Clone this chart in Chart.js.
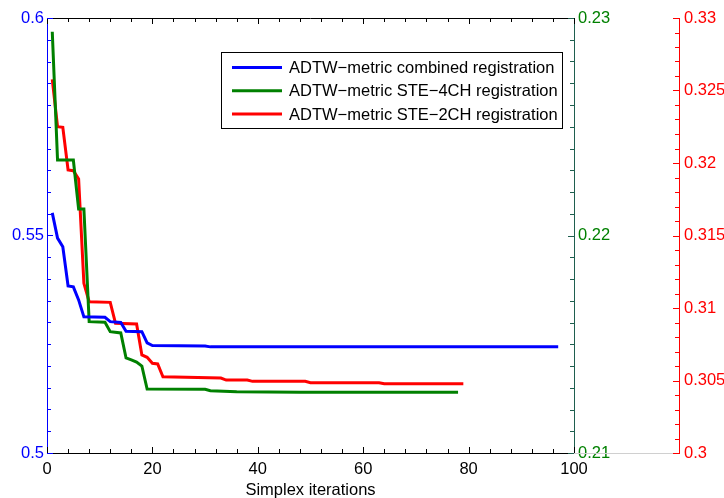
<!DOCTYPE html>
<html><head><meta charset="utf-8">
<script src="https://cdn.jsdelivr.net/npm/chart.js@4/dist/chart.umd.min.js"></script>
<style>html,body{margin:0;padding:0;background:#fff;}#wrap{width:724px;height:498px;}</style>
</head><body><div id="wrap"><canvas id="c" width="724" height="498"></canvas></div>
<script>
// Series: iteration numbers where the value changes, and the values there
const combinedIter = [1, 2, 3, 4, 5, 6, 7, 11, 12, 14, 15, 18, 19, 20, 30, 31, 97];
const combinedVal  = [0.5552, 0.5494, 0.5474, 0.5384, 0.5382, 0.5352, 0.5313, 0.5312, 0.5302, 0.5300, 0.5280, 0.5279, 0.5253, 0.5247, 0.5246, 0.5244, 0.5244];

const ste4Iter = [1, 2, 5, 6, 7, 8, 11, 12, 14, 15, 16, 17, 18, 19, 30, 31, 36, 48, 78];
const ste4Val  = [0.22937, 0.22347, 0.22347, 0.22122, 0.22122, 0.21604, 0.21601, 0.21558, 0.21552, 0.21437, 0.21428, 0.21418, 0.21400, 0.21294, 0.21293, 0.21286, 0.21282, 0.21279, 0.21279];

const ste2Iter = [1, 2, 3, 4, 5, 6, 7, 8, 12, 13, 17, 18, 19, 20, 21, 22, 33, 34, 38, 39, 49, 50, 63, 64, 79];
const ste2Val  = [0.32577, 0.32250, 0.32246, 0.31952, 0.31947, 0.31890, 0.31170, 0.31043, 0.31039, 0.30894, 0.30890, 0.30676, 0.30660, 0.30619, 0.30614, 0.30526, 0.30517, 0.30503, 0.30503, 0.30494, 0.30494, 0.30485, 0.30485, 0.30478, 0.30478];

const seriesNames = ['ADTW\u2212metric combined registration', 'ADTW\u2212metric STE\u22124CH registration', 'ADTW\u2212metric STE\u22122CH registration'];

const xTickLabels = [0, 20, 40, 60, 80, 100];
const leftTickLabels = [0.5, 0.55, 0.6];
const greenTickLabels = [0.21, 0.22, 0.23];
const redTickLabels = [0.3, 0.305, 0.31, 0.315, 0.32, 0.325, 0.33];

const FONT = '"Liberation Sans", Arial, Helvetica, sans-serif';
const FS = 16.5;
const BLUE = '#0000ff', GREEN = '#008000', RED = '#ff0000';
const GREEN_AXIS = '#1f5f4f';

function pts(xs, ys) { return xs.map((x, i) => ({x: x, y: ys[i]})); }
function labeler(list) {
  return function (v) {
    const m = list.find(l => Math.abs(l - v) < 1e-9);
    return m === undefined ? '' : String(m);
  };
}
function isMajor(list, v) { return list.some(l => Math.abs(l - v) < 1e-9); }

const axesPlugin = {
  id: 'axesDeco',
  afterDraw(chart) {
    const ctx = chart.ctx;
    const {left, right, top, bottom} = chart.chartArea;
    const sx = chart.scales.x, sy = chart.scales.y, sg = chart.scales.y2, sr = chart.scales.y3;
    ctx.save();
    ctx.lineWidth = 1;
    ctx.strokeStyle = '#d0d0d0';
    ctx.beginPath(); ctx.moveTo(right, bottom + 0.5); ctx.lineTo(sr.left, bottom + 0.5); ctx.stroke();
    ctx.strokeStyle = '#000';
    ctx.beginPath(); ctx.moveTo(left, top + 0.5); ctx.lineTo(right, top + 0.5); ctx.stroke();
    sx.ticks.forEach(t => {
      const p = Math.round(sx.getPixelForValue(t.value)) + 0.5;
      const len = isMajor(xTickLabels, t.value) ? 6 : 4;
      ctx.beginPath(); ctx.moveTo(p, bottom); ctx.lineTo(p, bottom - len); ctx.stroke();
      ctx.beginPath(); ctx.moveTo(p, top); ctx.lineTo(p, top + len); ctx.stroke();
    });
    ctx.strokeStyle = BLUE;
    sy.ticks.forEach(t => {
      const p = Math.round(sy.getPixelForValue(t.value)) + 0.5;
      const len = isMajor(leftTickLabels, t.value) ? 6 : 4;
      ctx.beginPath(); ctx.moveTo(left, p); ctx.lineTo(left + len, p); ctx.stroke();
    });
    ctx.strokeStyle = GREEN_AXIS;
    sg.ticks.forEach(t => {
      const p = Math.round(sg.getPixelForValue(t.value)) + 0.5;
      const len = isMajor(greenTickLabels, t.value) ? 6 : 4;
      ctx.beginPath(); ctx.moveTo(right, p); ctx.lineTo(right - len, p); ctx.stroke();
    });
    ctx.strokeStyle = RED;
    const rx = sr.left;
    sr.ticks.forEach(t => {
      const p = Math.round(sr.getPixelForValue(t.value)) + 0.5;
      const len = isMajor(redTickLabels, t.value) ? 6 : 4;
      ctx.beginPath(); ctx.moveTo(rx, p); ctx.lineTo(rx - len, p); ctx.stroke();
    });
    // legend box
    const bx = 221.5, by = 52.5, bw = 341, bh = 76;
    ctx.fillStyle = '#fff';
    ctx.fillRect(bx, by, bw, bh);
    ctx.strokeStyle = '#000';
    ctx.lineWidth = 1;
    ctx.strokeRect(bx, by, bw, bh);
    ctx.font = FS + 'px ' + FONT;
    ctx.textBaseline = 'middle';
    ctx.textAlign = 'left';
    chart.data.datasets.forEach((ds, i) => {
      const yy = 67.5 + i * 23.3;
      ctx.strokeStyle = ds.borderColor;
      ctx.lineWidth = 3;
      ctx.beginPath(); ctx.moveTo(232, yy); ctx.lineTo(282, yy); ctx.stroke();
      ctx.fillStyle = '#000';
      ctx.fillText(ds.label, 289, yy + 1);
    });
    ctx.restore();
  }
};

new Chart(document.getElementById('c'), {
  type: 'line',
  data: {
    datasets: [
      {label: seriesNames[0], data: pts(combinedIter, combinedVal), yAxisID: 'y', borderColor: BLUE, backgroundColor: BLUE, borderWidth: 3, pointRadius: 0, tension: 0, fill: false},
      {label: seriesNames[1], data: pts(ste4Iter, ste4Val), yAxisID: 'y2', borderColor: GREEN, backgroundColor: GREEN, borderWidth: 3, pointRadius: 0, tension: 0, fill: false},
      {label: seriesNames[2], data: pts(ste2Iter, ste2Val), yAxisID: 'y3', borderColor: RED, backgroundColor: RED, borderWidth: 3, pointRadius: 0, tension: 0, fill: false}
    ]
  },
  options: {
    responsive: false,
    animation: false,
    devicePixelRatio: 1,
    layout: {padding: {top: 18, left: 0, right: 0, bottom: 0}},
    plugins: {legend: {display: false}, tooltip: {enabled: false}},
    scales: {
      x: {
        type: 'linear', min: 0, max: 100,
        grid: {display: false, drawTicks: false},
        border: {display: true, color: '#000', width: 1},
        ticks: {stepSize: 4, autoSkip: false, maxRotation: 0, padding: 7, color: '#000', font: {family: FONT, size: FS}, callback: labeler(xTickLabels)},
        title: {display: true, text: 'Simplex iterations', color: '#000', font: {family: FONT, size: FS}, padding: {top: 0, bottom: -2}},
        afterFit: s => { s.height = 45; }
      },
      y: {
        position: 'left', min: 0.5, max: 0.6,
        grid: {display: false, drawTicks: false},
        border: {display: true, color: BLUE, width: 1},
        ticks: {stepSize: 0.005, autoSkip: false, padding: 3, color: BLUE, font: {family: FONT, size: FS}, callback: labeler(leftTickLabels)},
        afterFit: s => { s.width = 47; }
      },
      y2: {
        position: 'right', weight: 1, min: 0.21, max: 0.23,
        grid: {display: false, drawTicks: false},
        border: {display: true, color: GREEN_AXIS, width: 1},
        ticks: {stepSize: 0.001, autoSkip: false, padding: 4, color: GREEN, font: {family: FONT, size: FS}, callback: labeler(greenTickLabels)},
        afterFit: s => { s.width = 105; }
      },
      y3: {
        position: 'right', weight: 2, min: 0.3, max: 0.33,
        grid: {display: false, drawTicks: false},
        border: {display: true, color: RED, width: 1},
        ticks: {stepSize: 0.001, autoSkip: false, padding: 5, color: RED, font: {family: FONT, size: FS}, callback: labeler(redTickLabels)},
        afterFit: s => { s.width = 45; }
      }
    }
  },
  plugins: [axesPlugin]
});
</script>
</body></html>
